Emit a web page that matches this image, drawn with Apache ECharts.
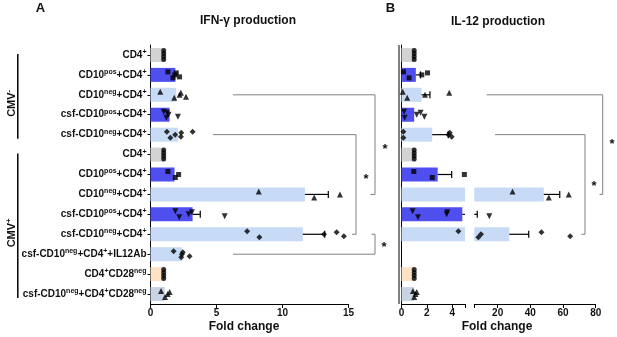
<!DOCTYPE html>
<html><head><meta charset="utf-8">
<script src="https://cdn.jsdelivr.net/npm/echarts@6/dist/echarts.min.js"></script>
<style>html,body{margin:0;padding:0;background:#fff}#c{width:617px;height:337px}</style>
</head><body><div id="c"></div>
<script>
// ---- data ----
const categories = [
  'CD4^+^', 'CD10^pos^+CD4^+^', 'CD10^neg^+CD4^+^', 'csf-CD10^pos^+CD4^+^', 'csf-CD10^neg^+CD4^+^',
  'CD4^+^', 'CD10^pos^+CD4^+^', 'CD10^neg^+CD4^+^', 'csf-CD10^pos^+CD4^+^', 'csf-CD10^neg^+CD4^+^',
  'csf-CD10^neg^+CD4^+^+IL12Ab', 'CD4^+^CD28^neg^', 'csf-CD10^neg^+CD4^+^CD28^neg^'
];
const groupNames = ['CMV^-^', 'CMV^+^'];
const ifnMean = [1.1, 1.88, 1.95, 1.44, 2.08, 1.1, 1.82, 11.7, 3.19, 11.54, 2.38, 1.05, 1.08];
const ifnPoints = [
  [1, 1, 1, 1], [1.32, 1.7, 1.85, 1.95, 2.2], [0.74, 1.8, 2.2, 2.3, 2.69], [1.0, 1.2, 1.37, 1.25, 2.08],
  [1.24, 1.5, 1.87, 2.33, 2.3, 3.19], [1, 1, 1, 1], [1.32, 1.88, 2.13], [8.2, 12.4, 14.35],
  [1.88, 2.18, 2.89, 3.14, 5.62], [7.32, 8.25, 13.15, 14.1, 14.65], [1.75, 2.33, 2.38, 2.45, 2.96],
  [1, 1, 1, 1], [0.8, 1.1, 1.3, 1.45]
];
const ifnErrUpper = [null, null, null, null, null, null, null, 13.47, 3.77, 13.2, null, null, null];
const il12Mean = [1.12, 1.13, 1.58, 1.0, 2.42, 1.1, 2.85, 48.2, 4.79, 27.1, null, 1.0, 1.0];
const il12Points = [
  [1, 1, 1, 1], [0.15, 0.6, 1.6, 2.05], [0.1, 0.45, 1.85, 3.76], [0.2, 0.25, 1.2, 1.5, 1.8],
  [0.15, 0.15, 3.7, 3.8, 3.95], [1, 1, 1, 1], [0.97, 2.42, 4.95], [29.1, 51.3, 63.5],
  [0.87, 1.3, 3.56, 3.6, 14.9], [4.48, 8.2, 9.8, 46.8, 64.4], [],
  [1, 1, 1, 1], [0.9, 1.0, 1.1, 1.2]
];
const il12ErrUpper = [null, 1.5, 2.24, null, 3.68, null, 3.95, 58, 7.5, 39, null, null, null];
const ticksA = [0, 5, 10, 15];
const ticksB1 = [0, 2, 4];
const ticksB2 = [20, 40, 60, 80];
const breakLow = 5, breakHigh = 5.7;

// ---- styles ----
const rowColors = ['#d3d3d3', '#4f4ff0', '#c7dbf6', '#4f4ff0', '#c7dbf6', '#d3d3d3', '#4f4ff0', '#c7dbf6',
  '#4f4ff0', '#c7dbf6', '#c7dbf6', '#fde2c6', '#c8d3e3'];
const rowSymbols = ['circle', 'rect', 'triangle', 'tdown', 'diamond', 'circle', 'rect', 'triangle', 'tdown',
  'diamond', 'diamond', 'circle', 'triangle'];
const FONT = 'Liberation Sans, Arial, sans-serif';

function toRich(s) {
  const parts = s.split('^');
  return parts.map((p, i) => p === '' ? '' : (i % 2 ? '{s|' + p + '}' : '{n|' + p + '}')).join('');
}
const richStyle = {
  n: { fontSize: 10, fontWeight: 'bold', fontFamily: FONT, color: '#111', lineHeight: 13 },
  s: { fontSize: 7, fontWeight: 'bold', fontFamily: FONT, color: '#111', lineHeight: 13, verticalAlign: 'top' }
};

function scatterData(points, filter) {
  const out = [];
  points.forEach((row, r) => {
    const allSame = row.length > 1 && row.every(v => v === row[0]);
    row.forEach((v, k) => {
      if (!filter(v)) return;
      let off;
      if (allSame) off = (k - (row.length - 1) / 2) * 3;
      else off = [-3, 3, 0, -2, 2, -3][k % 6];
      const sym = rowSymbols[r];
      out.push({
        value: [v, r],
        symbol: sym === 'tdown' ? 'triangle' : sym,
        symbolRotate: sym === 'tdown' ? 180 : 0,
        symbolSize: sym === 'circle' ? 5 : (sym === 'rect' ? 5 : 6),
        symbolOffset: [0, off]
      });
    });
  });
  return out;
}
function errSeries(means, uppers, idx, lo, hi) {
  const data = [];
  means.forEach((m, i) => { if (uppers[i] != null) data.push([m, uppers[i], i]); });
  return {
    type: 'custom', xAxisIndex: idx, yAxisIndex: idx, data, z: 5,
    encode: { x: [0, 1], y: 2 },
    renderItem(params, api) {
      const m = api.value(0), u = api.value(1), r = api.value(2);
      const a = Math.max(m, lo), b = Math.min(u, hi);
      if (b <= a) return null;
      const p1 = api.coord([a, r]), p2 = api.coord([b, r]);
      const ch = [{ type: 'line', shape: { x1: p1[0], y1: p1[1], x2: p2[0], y2: p2[1] }, style: { stroke: '#000', lineWidth: 1.2 } }];
      if (u <= hi) ch.push({ type: 'line', shape: { x1: p2[0], y1: p2[1] - 3.5, x2: p2[0], y2: p2[1] + 3.5 }, style: { stroke: '#000', lineWidth: 1.2 } });
      return { type: 'group', children: ch };
    }
  };
}
const axisLabelBase = { fontSize: 10, fontWeight: 'bold', fontFamily: FONT, color: '#111', margin: 4 };
const axLine = { show: true, lineStyle: { color: '#000', width: 1 } };
const gTop = 45, gH = 259;

const chart = echarts.init(document.getElementById('c'), null, { renderer: 'canvas' });
const option = {
  animation: false,
  backgroundColor: '#fff',
  grid: [
    { left: 150.5, top: gTop, width: 198, height: gH },
    { left: 401.5, top: gTop, width: 63.5, height: gH },
    { left: 474.3, top: gTop, width: 121.4, height: gH }
  ],
  xAxis: [
    { gridIndex: 0, type: 'value', min: 0, max: 15, interval: 5, axisLine: axLine, splitLine: { show: false },
      axisTick: { show: true, length: 4, lineStyle: { color: '#000' }, customValues: ticksA },
      axisLabel: Object.assign({ customValues: ticksA }, axisLabelBase) },
    { gridIndex: 1, type: 'value', min: 0, max: breakLow, axisLine: axLine, splitLine: { show: false },
      axisTick: { show: true, length: 4, lineStyle: { color: '#000' }, customValues: ticksB1.concat([breakLow]) },
      axisLabel: Object.assign({ customValues: ticksB1 }, axisLabelBase) },
    { gridIndex: 2, type: 'value', min: breakHigh, max: 80, axisLine: axLine, splitLine: { show: false },
      axisTick: { show: true, length: 4, lineStyle: { color: '#000' }, customValues: [breakHigh].concat(ticksB2) },
      axisLabel: Object.assign({ customValues: ticksB2 }, axisLabelBase) }
  ],
  yAxis: [
    { gridIndex: 0, type: 'category', inverse: true, data: categories, axisLine: axLine,
      axisTick: { show: true, alignWithLabel: true, length: 3, lineStyle: { color: '#000' } },
      axisLabel: { margin: 4, formatter: (v) => toRich(v), rich: richStyle, interval: 0 } },
    { gridIndex: 1, type: 'category', inverse: true, data: categories, axisLine: axLine,
      axisTick: { show: false }, axisLabel: { show: false } },
    { gridIndex: 2, type: 'category', inverse: true, data: categories, axisLine: { show: false },
      axisTick: { show: false }, axisLabel: { show: false } }
  ],
  series: [
    { type: 'bar', xAxisIndex: 0, yAxisIndex: 0, barWidth: 14,
      data: ifnMean.map((v, i) => ({ value: v, itemStyle: { color: rowColors[i] } })) },
    { type: 'bar', xAxisIndex: 1, yAxisIndex: 1, barWidth: 14,
      data: il12Mean.map((v, i) => ({ value: v == null ? null : Math.min(v, breakLow), itemStyle: { color: rowColors[i] } })) },
    { type: 'bar', xAxisIndex: 2, yAxisIndex: 2, barWidth: 14, clip: true,
      data: il12Mean.map((v, i) => ({ value: v != null && v > breakHigh ? v : null, itemStyle: { color: rowColors[i] } })) },
    errSeries(ifnMean, ifnErrUpper, 0, 0, 15),
    errSeries(il12Mean, il12ErrUpper, 1, 0, breakLow),
    errSeries(il12Mean, il12ErrUpper, 2, breakHigh, 80),
    { type: 'scatter', xAxisIndex: 0, yAxisIndex: 0, z: 6, itemStyle: { color: '#000' },
      data: scatterData(ifnPoints, v => true) },
    { type: 'scatter', xAxisIndex: 1, yAxisIndex: 1, z: 6, itemStyle: { color: '#000' },
      data: scatterData(il12Points, v => v <= breakLow) },
    { type: 'scatter', xAxisIndex: 2, yAxisIndex: 2, z: 6, itemStyle: { color: '#000' },
      data: scatterData(il12Points, v => v > breakLow) }
  ]
};
chart.setOption(option);

// ---- annotations ----
const rowY = (r) => chart.convertToPixel({ yAxisIndex: 0 }, r);
const brackets = [
  { from: 2, to: 7, x1: 233, xv: 375, x2: 370.5, star: [385, 149] },
  { from: 4, to: 9, x1: 213, xv: 356, x2: 352, star: [366, 179] },
  { from: 9, to: 10, x1: 371.5, xv: 375, x2: 233, star: [384, 247] },
  { from: 2, to: 7, x1: 486.7, xv: 602.7, x2: 599.5, star: [612, 144] },
  { from: 4, to: 9, x1: 495, xv: 585, x2: 581.5, star: [594, 186] }
];
const g = [];
brackets.forEach(b => {
  const y1 = rowY(b.from), y2 = rowY(b.to);
  g.push({ type: 'polyline', shape: { points: [[b.x1, y1], [b.xv, y1], [b.xv, y2], [b.x2, y2]] },
    style: { stroke: '#808080', lineWidth: 1, fill: null }, silent: true });
  g.push({ type: 'text', x: b.star[0], y: b.star[1], style: { text: '*', fontSize: 13, fontWeight: 'bold',
    fontFamily: FONT, fill: '#111', align: 'center', verticalAlign: 'middle' } });
});
// double line of panel B axis
g.push({ type: 'line', shape: { x1: 399, y1: gTop, x2: 399, y2: gTop + gH }, style: { stroke: '#000', lineWidth: 1 } });
// group lines and labels
const groupRows = [[0, 4], [5, 12]];
groupRows.forEach((gr, i) => {
  const ya = rowY(gr[0]) - 1, yb = rowY(gr[1]) + 4;
  g.push({ type: 'line', shape: { x1: 17.8, y1: ya, x2: 17.8, y2: yb }, style: { stroke: '#000', lineWidth: 1.5 } });
  g.push({ type: 'text', x: 11.5, y: (ya + yb) / 2 + 7, rotation: Math.PI / 2,
    style: { text: toRich(groupNames[i]), rich: { n: { fontSize: 11, fontWeight: 'bold', fontFamily: FONT, fill: '#111', lineHeight: 14 },
      s: { fontSize: 8, fontWeight: 'bold', fontFamily: FONT, fill: '#111', lineHeight: 14, verticalAlign: 'top' } },
      align: 'center', verticalAlign: 'middle' } });
});
const texts = [
  ['A', 40.5, 8, 13], ['B', 390.5, 8, 13],
  ['IFN-\u03b3 production', 248, 21, 12], ['IL-12 production', 498, 22, 12],
  ['Fold change', 244, 327, 12], ['Fold change', 497, 327, 12]
];
texts.forEach(t => g.push({ type: 'text', x: t[1], y: t[2], style: { text: t[0], fontSize: t[3], fontWeight: 'bold',
  fontFamily: FONT, fill: '#111', align: 'center', verticalAlign: 'middle' } }));
chart.setOption({ graphic: g });
</script></body></html>
